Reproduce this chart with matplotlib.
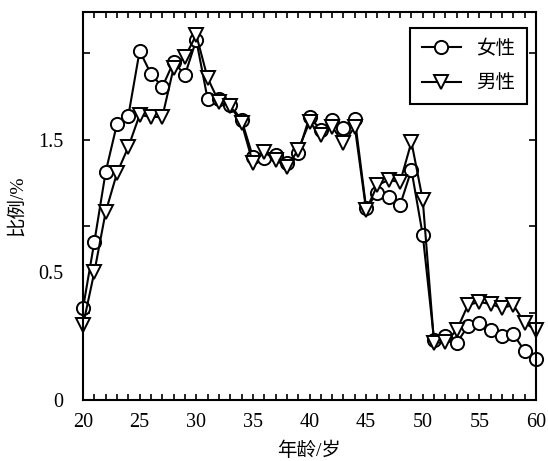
import matplotlib
matplotlib.use('Agg')
import matplotlib.pyplot as plt
import numpy as np

plt.rcParams['font.family'] = ['Liberation Serif', 'Noto Sans CJK SC']
plt.rcParams['axes.unicode_minus'] = False

# ages 20..60
age = list(range(20, 61))
female = [0.530, 0.911, 1.314, 1.591, 1.637, 2.012, 1.879, 1.804, 1.948, 1.873,
          2.075, 1.735, 1.735, 1.700, 1.614, 1.401, 1.395, 1.412, 1.366, 1.424,
          1.631, 1.556, 1.614, 1.568, 1.620, 1.107, 1.193, 1.170, 1.124, 1.326,
          0.951, 0.346, 0.369, 0.329, 0.427, 0.444, 0.403, 0.369, 0.380, 0.282,
          0.236]
male = [0.432, 0.738, 1.084, 1.308, 1.458, 1.643, 1.631, 1.631, 1.914, 1.977,
        2.104, 1.856, 1.718, 1.695, 1.597, 1.366, 1.429, 1.383, 1.343, 1.441,
        1.602, 1.527, 1.574, 1.481, 1.574, 1.095, 1.239, 1.268, 1.256, 1.487,
        1.153, 0.329, 0.334, 0.403, 0.548, 0.565, 0.553, 0.530, 0.548, 0.444,
        0.403]
series_names = ['女性', '男性']

xticks = [20, 25, 30, 35, 40, 45, 50, 55, 60]
ytick_marks = [0.5, 1.0, 1.5, 2.0]
ylabel_pos = [0, 0.74, 1.5]
ylabel_txt = ['0', '0.5', '1.5']

fig = plt.figure(figsize=(5.48, 4.61), dpi=100)
ax = fig.add_axes([0.1515, 0.1323, 0.8266, 0.8417])

ax.plot(age, female, color='black', lw=1.5, marker='o', ms=9.5,
        mfc='white', mec='black', mew=1.4, label=series_names[0], clip_on=False)
ax.plot(age, male, color='black', lw=1.5, marker='v', ms=10,
        mfc='white', mec='black', mew=1.4, label=series_names[1], clip_on=False)

ax.set_xlim(20, 60)
ax.set_ylim(0, 2.236)

ax.set_xticks(xticks)
ax.set_xticks(age, minor=True)
ax.tick_params(axis='x', which='both', direction='in', top=True, length=4,
               width=1.2, labelsize=14.5, pad=9)

ax.yaxis.remove_overlapping_locs = False
ax.set_yticks(ytick_marks)
ax.set_yticklabels([])
ax.set_yticks(ylabel_pos, minor=True)
ax.set_yticklabels(ylabel_txt, minor=True)
ax.tick_params(axis='y', which='major', direction='in', right=True, length=5,
               width=1.2)
ax.tick_params(axis='y', which='minor', length=0, labelsize=14.5, pad=14)

for sp in ax.spines.values():
    sp.set_linewidth(1.5)

ax.set_xlabel('年龄/岁', fontsize=14, labelpad=7)
ax.set_ylabel('比例/%', fontsize=14, labelpad=9)

leg = ax.legend(loc='upper right', bbox_to_anchor=(0.98, 0.959), borderaxespad=0,
                fontsize=14, handlelength=2.0, handletextpad=0.8,
                labelspacing=0.85, borderpad=0.6, fancybox=False,
                edgecolor='black', framealpha=1)
leg.get_frame().set_linewidth(1.5)

plt.savefig('out.png', dpi=100)
